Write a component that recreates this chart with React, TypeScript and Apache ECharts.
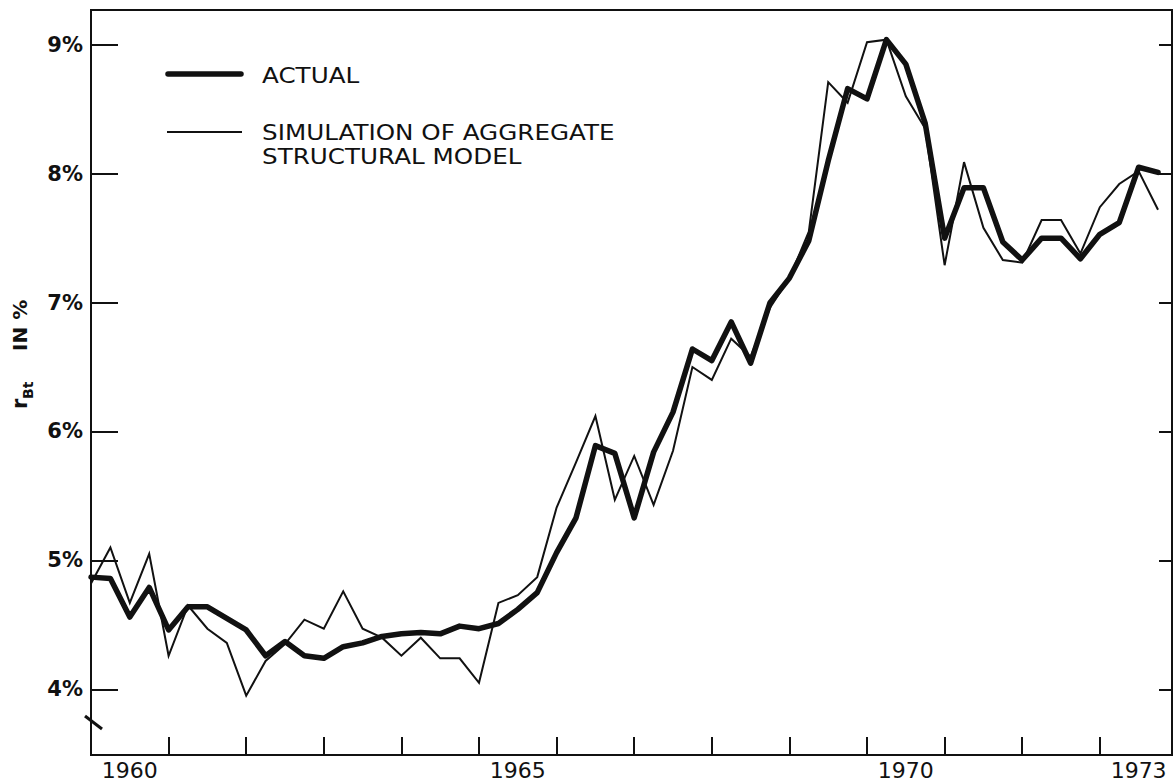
import React, { useEffect, useRef } from "react";
import * as echarts from "echarts";

const START_YEAR = 1960;
const QUARTERS_PER_YEAR = 4;

// Quarterly values, 1960 Q1 .. 1973 Q4
const actual = [
  4.87, 4.86, 4.56, 4.79, 4.46, 4.64, 4.64, 4.55, 4.46, 4.26,
  4.37, 4.26, 4.24, 4.33, 4.36, 4.41, 4.43, 4.44, 4.43, 4.49,
  4.47, 4.51, 4.62, 4.75, 5.06, 5.33, 5.89, 5.83, 5.33, 5.84,
  6.15, 6.64, 6.55, 6.85, 6.53, 7.0, 7.19, 7.48, 8.1, 8.66,
  8.58, 9.04, 8.85, 8.39, 7.5, 7.89, 7.89, 7.47, 7.33, 7.5,
  7.5, 7.34, 7.53, 7.62, 8.05, 8.01,
];

const simulation = [
  4.82, 5.1, 4.67, 5.05, 4.26, 4.65, 4.47, 4.36, 3.95, 4.22,
  4.35, 4.54, 4.47, 4.76, 4.47, 4.4, 4.26, 4.4, 4.24, 4.24,
  4.05, 4.67, 4.73, 4.87, 5.41, 5.76, 6.12, 5.47, 5.81, 5.43,
  5.85, 6.5, 6.4, 6.72, 6.58, 6.96, 7.19, 7.55, 8.71, 8.55,
  9.02, 9.04, 8.6, 8.35, 7.29, 8.09, 7.58, 7.33, 7.31, 7.64,
  7.64, 7.38, 7.74, 7.92, 8.02, 7.72,
];

const yTicks = [4, 5, 6, 7, 8, 9];
const yearLabels = [1960, 1965, 1970, 1973];

const INK = "#111111";
const FONT = "DejaVu Sans";

export default function App() {
  const ref = useRef<HTMLDivElement>(null);

  useEffect(() => {
    document.body.style.margin = "0";
    if (!ref.current) return;
    const chart = echarts.init(ref.current, undefined, { renderer: "svg" });

    const toPoints = (arr: number[]) =>
      arr.map((v, i) => [START_YEAR + i / QUARTERS_PER_YEAR, v]);

    const legendText = (text: string, y: number) => ({
      type: "text",
      x: 262,
      y,
      scaleX: 1.12,
      style: { text, fill: INK, font: `22px "${FONT}"`, verticalAlign: "middle" },
    });

    const option: any = {
      animation: false,
      backgroundColor: "#ffffff",
      grid: {
        left: 91,
        right: 1,
        top: 10,
        bottom: 27,
        show: true,
        borderColor: INK,
        borderWidth: 2,
        backgroundColor: "transparent",
      },
      xAxis: {
        type: "value",
        min: 1960,
        max: 1973.93,
        interval: 1,
        axisLine: { show: true, lineStyle: { color: INK, width: 2 } },
        axisTick: { show: true, inside: true, length: 18, lineStyle: { color: INK, width: 2 } },
        splitLine: { show: false },
        axisLabel: {
          customValues: yearLabels.map((y) => y + 0.5),
          formatter: (v: number) => String(Math.floor(v)),
          color: INK,
          fontFamily: FONT,
          fontSize: 22,
          margin: 4,
        },
      },
      yAxis: [
        {
          type: "value",
          min: 3.49,
          max: 9.27,
          position: "left",
          axisLine: { show: true, lineStyle: { color: INK, width: 2 } },
          axisTick: {
            show: true,
            inside: true,
            length: 27,
            customValues: yTicks,
            lineStyle: { color: INK, width: 2 },
          },
          splitLine: { show: false },
          axisLabel: {
            customValues: yTicks,
            formatter: (v: number) => v + "%",
            color: INK,
            fontFamily: FONT,
            fontSize: 21,
            fontWeight: "bold",
            margin: 8,
          },
        },
        {
          type: "value",
          min: 3.49,
          max: 9.27,
          position: "right",
          axisLine: { show: true, lineStyle: { color: INK, width: 2 } },
          axisTick: {
            show: true,
            inside: true,
            length: 13,
            customValues: yTicks,
            lineStyle: { color: INK, width: 2 },
          },
          splitLine: { show: false },
          axisLabel: { show: false },
        },
      ],
      series: [
        {
          name: "ACTUAL",
          type: "line",
          data: toPoints(actual),
          symbol: "none",
          lineStyle: { color: INK, width: 5.5, join: "round", cap: "round" },
          z: 3,
        },
        {
          name: "SIMULATION OF AGGREGATE STRUCTURAL MODEL",
          type: "line",
          data: toPoints(simulation),
          symbol: "none",
          lineStyle: { color: INK, width: 2, join: "miter" },
          z: 4,
        },
      ],
      graphic: [
        // legend
        {
          type: "line",
          shape: { x1: 168, y1: 74, x2: 241, y2: 74 },
          style: { stroke: INK, lineWidth: 5.5, lineCap: "round" },
        },
        legendText("ACTUAL", 75),
        {
          type: "line",
          shape: { x1: 167, y1: 132, x2: 242, y2: 132 },
          style: { stroke: INK, lineWidth: 2 },
        },
        legendText("SIMULATION OF AGGREGATE", 132),
        legendText("STRUCTURAL MODEL", 156),
        // y-axis title, rotated
        {
          type: "group",
          x: 20,
          y: 409,
          rotation: Math.PI / 2,
          children: [
            {
              type: "text",
              x: 0,
              y: 0,
              style: { text: "r", fill: INK, font: `bold 21px "${FONT}"`, verticalAlign: "middle" },
            },
            {
              type: "text",
              x: 10,
              y: 8,
              style: { text: "Bt", fill: INK, font: `bold 14px "${FONT}"`, verticalAlign: "middle" },
            },
            {
              type: "text",
              x: 58,
              y: 0,
              style: { text: "IN %", fill: INK, font: `bold 20px "${FONT}"`, verticalAlign: "middle" },
            },
          ],
        },
        // axis break mark
        {
          type: "line",
          shape: { x1: 85, y1: 716, x2: 102, y2: 729 },
          style: { stroke: INK, lineWidth: 3 },
        },
      ],
    };

    chart.setOption(option);
    return () => chart.dispose();
  }, []);

  return <div ref={ref} style={{ width: 1173, height: 782 }} />;
}
